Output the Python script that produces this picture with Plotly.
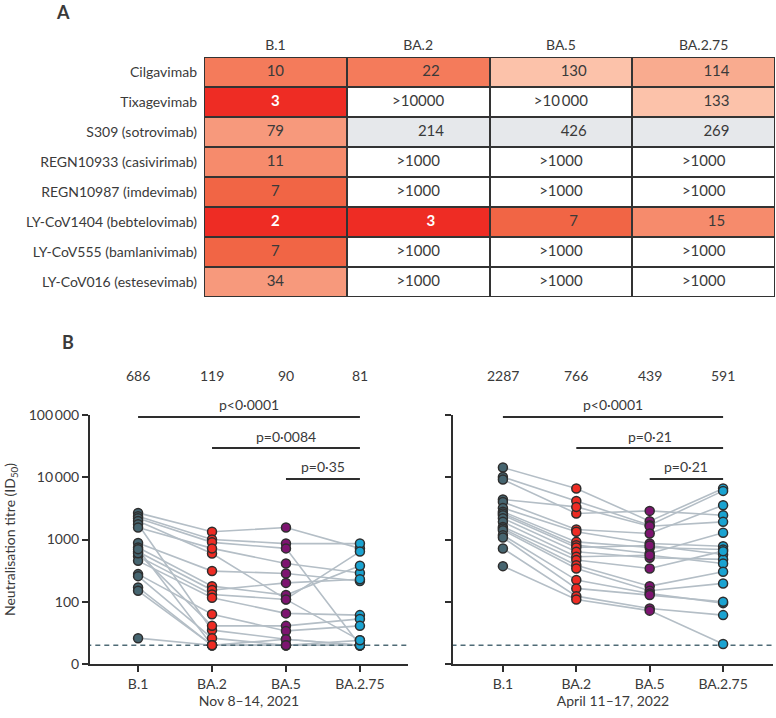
import plotly.graph_objects as go

variants = ["B.1", "BA.2", "BA.5", "BA.2.75"]

# ---- panel A: IC50 of therapeutic monoclonal antibodies
mabs = ["Cilgavimab", "Tixagevimab", "S309 (sotrovimab)", "REGN10933 (casivirimab)",
        "REGN10987 (imdevimab)", "LY-CoV1404 (bebtelovimab)", "LY-CoV555 (bamlanivimab)",
        "LY-CoV016 (estesevimab)"]
ic50 = [
    ["10", "22", "130", "114"],
    ["3", ">10000", ">10\u2009000", "133"],
    ["79", "214", "426", "269"],
    ["11", ">1000", ">1000", ">1000"],
    ["7", ">1000", ">1000", ">1000"],
    ["2", "3", "7", "15"],
    ["7", ">1000", ">1000", ">1000"],
    ["34", ">1000", ">1000", ">1000"],
]
# shading bin of every cell (0 = no neutralisation, 1 = grey, 2..8 = red to pale)
shade = [
    [4, 4, 8, 7],
    [2, 0, 0, 8],
    [6, 1, 1, 1],
    [5, 0, 0, 0],
    [3, 0, 0, 0],
    [2, 2, 3, 5],
    [3, 0, 0, 0],
    [6, 0, 0, 0],
]
shade_colors = ["#ffffff", "#e6e8eb", "#ee2c24", "#f16545", "#f47b5b",
                "#f68b6c", "#f7997c", "#f9ab8f", "#fcc2aa"]

# ---- panel B: neutralisation titres (ID50), one entry per individual
nov_b1 = [2675, 2370, 2200, 1990, 1760, 1560, 880, 745, 634, 540, 454, 600, 278, 258, 170, 150, 26, 700]
nov_ba2 = [1330, 1000, 900, 597, 35, 720, 311, 178, 154, 131, 116, 41, 63, 26, 20, 20, 20, 20]
nov_ba5 = [1560, 860, 720, 110, 25, 412, 285, 128, 201, 109, 65, 41, 34, 20, 20, 25, 20, 20]
nov_ba275 = [720, 860, 20, 640, 20, 290, 215, 378, 230, 24, 61, 53, 41, 20, 20, 20, 20, 24]

apr_b1 = [14300, 10100, 9180, 4390, 4020, 3220, 2800, 2620, 2455, 2200, 1920, 1595, 1500, 1410, 1175, 1077, 718, 373]
apr_ba2 = [6590, 4170, 2620, 3340, 1450, 1330, 916, 811, 745, 634, 527, 467, 387, 343, 223, 164, 123, 109]
apr_ba5 = [1970, 1700, 2880, 1637, 1250, 863, 745, 597, 800, 508, 560, 343, 178, 150, 136, 128, 78, 72]
apr_ba275 = [6590, 6040, 2455, 1920, 3560, 781, 692, 1280, 575, 479, 412, 650, 303, 197, 95, 100, 61, 21]

nov_gm = [686, 119, 90, 81]
apr_gm = [2287, 766, 439, 591]

nov_p = [(0, 3, "p<0\u00b70001"), (1, 3, "p=0\u00b70084"), (2, 3, "p=0\u00b735")]
apr_p = [(0, 3, "p<0\u00b70001"), (1, 3, "p=0\u00b721"), (2, 3, "p=0\u00b721")]

detection_limit = 20

W, H = 776, 718
INK = "#3a3a3a"
FONT = "Lato"
marker_colors = ["#466570", "#ee2c24", "#7d1470", "#1aa3d1"]


def px(x):
    return x / W


def py(y):
    return 1 - y / H


fig = go.Figure()

# ============================== >>> Panel A table <<< ==============================
n = len(shade_colors) - 1
fig.add_trace(go.Heatmap(
    z=shade, x=list(range(4)), y=list(range(len(mabs))),
    zmin=0, zmax=n,
    colorscale=[[i / n, c] for i, c in enumerate(shade_colors)],
    xgap=2, ygap=2, showscale=False, hoverinfo="skip",
    xaxis="x3", yaxis="y3",
))

tx, ty, tt, tc = [], [], [], []
for r, row in enumerate(ic50):
    for c, val in enumerate(row):
        # plain numbers in the variant columns sit a little right of centre
        tx.append(c + (0.09 if c > 0 and val.isdigit() else 0))
        ty.append(r)
        white = shade[r][c] == 2
        tt.append("<b>%s</b>" % val if white else val)
        tc.append("white" if white else INK)
fig.add_trace(go.Scatter(
    x=tx, y=ty, text=tt, mode="text",
    textfont=dict(color=tc, size=15, family=FONT),
    hoverinfo="skip", xaxis="x3", yaxis="y3",
))

fig.add_shape(type="rect", xref="x3", yref="y3", x0=-0.5, x1=3.5, y0=-0.5, y1=len(mabs) - 0.5,
              fillcolor="#333333", line=dict(color="#333333", width=2), layer="below")

# ============================== >>> Panel B <<< ==============================
panels = [
    ("x", "y", [nov_b1, nov_ba2, nov_ba5, nov_ba275], nov_gm, nov_p),
    ("x2", "y2", [apr_b1, apr_ba2, apr_ba5, apr_ba275], apr_gm, apr_p),
]
levels = [4.968, 4.47, 3.97]      # bracket heights (log10 titre)
text_px = [404, 436, 466]         # p-value label rows (pixels from top)
gm_px = 375                       # geometric mean row

for xa, ya, series, gm, pvals in panels:
    # individual trajectories
    lx, ly = [], []
    for k in range(len(series[0])):
        for v in range(4):
            lx.append(v)
            ly.append(series[v][k])
        lx.append(None)
        ly.append(None)
    fig.add_trace(go.Scatter(x=lx, y=ly, mode="lines", line=dict(color="#b4bec6", width=1.6),
                             hoverinfo="skip", xaxis=xa, yaxis=ya))
    # limit of detection
    fig.add_trace(go.Scatter(x=[-0.7, 3.7], y=[detection_limit] * 2, mode="lines",
                             line=dict(color="#4f6b76", width=1.5, dash="5px,4px"),
                             hoverinfo="skip", xaxis=xa, yaxis=ya))
    for v in range(4):
        fig.add_trace(go.Scatter(
            x=[v] * len(series[v]), y=series[v], mode="markers",
            marker=dict(size=9, color=marker_colors[v], line=dict(color="#2e2e2e", width=1.5)),
            cliponaxis=False, xaxis=xa, yaxis=ya,
        ))
    for (a, b, label), lev, tpx in zip(pvals, levels, text_px):
        fig.add_trace(go.Scatter(x=[a, b], y=[10 ** lev] * 2, mode="lines",
                                 line=dict(color="#2e2e2e", width=2),
                                 hoverinfo="skip", xaxis=xa, yaxis=ya))
        fig.add_annotation(x=(a + b) / 2, y=py(tpx), xref=xa, yref="paper", text=label,
                           xanchor="center", yanchor="middle",
                           showarrow=False, font=dict(size=14, color=INK))
    for v, g in enumerate(gm):
        fig.add_annotation(x=v, y=py(gm_px), xref=xa, yref="paper", text=str(g),
                           xanchor="center", yanchor="middle",
                           showarrow=False, font=dict(size=14, color=INK))

# ============================== >>> Layout <<< ==============================
axis_common = dict(showline=True, linewidth=2, linecolor="#2e2e2e", ticks="outside",
                   ticklen=6, tickwidth=2, tickcolor="#2e2e2e", showgrid=False,
                   zeroline=False, automargin=False, tickfont=dict(size=14, color=INK))
ycommon = dict(axis_common, type="log", range=[1, 5], domain=[py(664), py(415)],
               tickvals=[10, 100, 1000, 10000, 100000])

fig.update_layout(
    width=W, height=H,
    margin=dict(l=0, r=0, t=0, b=0),
    paper_bgcolor="white", plot_bgcolor="white",
    font=dict(family=FONT, color=INK, size=14),
    showlegend=False,
    xaxis=dict(axis_common, domain=[px(90), px(408)], range=[-0.65, 3.65], anchor="y",
               tickvals=list(range(4)), ticktext=variants,
               title=dict(text="Nov 8\u201314, 2021", standoff=4, font=dict(size=14, color=INK))),
    yaxis=dict(ycommon, anchor="x",
               ticktext=["0", "100", "1000", "10\u2009000", "100\u2009000"]),
    xaxis2=dict(axis_common, domain=[px(453), px(773)], range=[-0.68, 3.68], anchor="y2",
                tickvals=list(range(4)), ticktext=variants,
                title=dict(text="April 11\u201317, 2022", standoff=4, font=dict(size=14, color=INK))),
    yaxis2=dict(ycommon, anchor="x2", showticklabels=False),
    xaxis3=dict(domain=[px(204), px(775)], range=[-0.5, 3.5], anchor="y3", side="top",
                tickvals=list(range(4)), ticktext=variants, ticks="", showgrid=False,
                zeroline=False, showline=False, automargin=False, ticklabelstandoff=3,
                tickfont=dict(size=14, color=INK)),
    yaxis3=dict(domain=[py(297), py(57)], range=[len(mabs) - 0.5, -0.5], anchor="x3",
                tickvals=list(range(len(mabs))), ticktext=mabs, ticks="", showgrid=False,
                zeroline=False, showline=False, automargin=False, ticklabelstandoff=6,
                tickfont=dict(size=14, color=INK)),
)

for label, lx, ly in [("<b>A</b>", 63, 12), ("<b>B</b>", 68, 342)]:
    fig.add_annotation(x=px(lx), y=py(ly), xref="paper", yref="paper", text=label,
                       xanchor="center", yanchor="middle",
                       showarrow=False, font=dict(size=18, color=INK))
fig.add_annotation(x=px(10), y=py(540), xref="paper", yref="paper", textangle=-90,
                   xanchor="center", yanchor="middle",
                   text="Neutralisation titre (ID<sub>50</sub>)",
                   showarrow=False, font=dict(size=14, color=INK))

# the page's default body margin would shift the figure by 8px
fig.write_html("out.html", config={"displayModeBar": False},
               post_script="document.body.style.margin='0';")
